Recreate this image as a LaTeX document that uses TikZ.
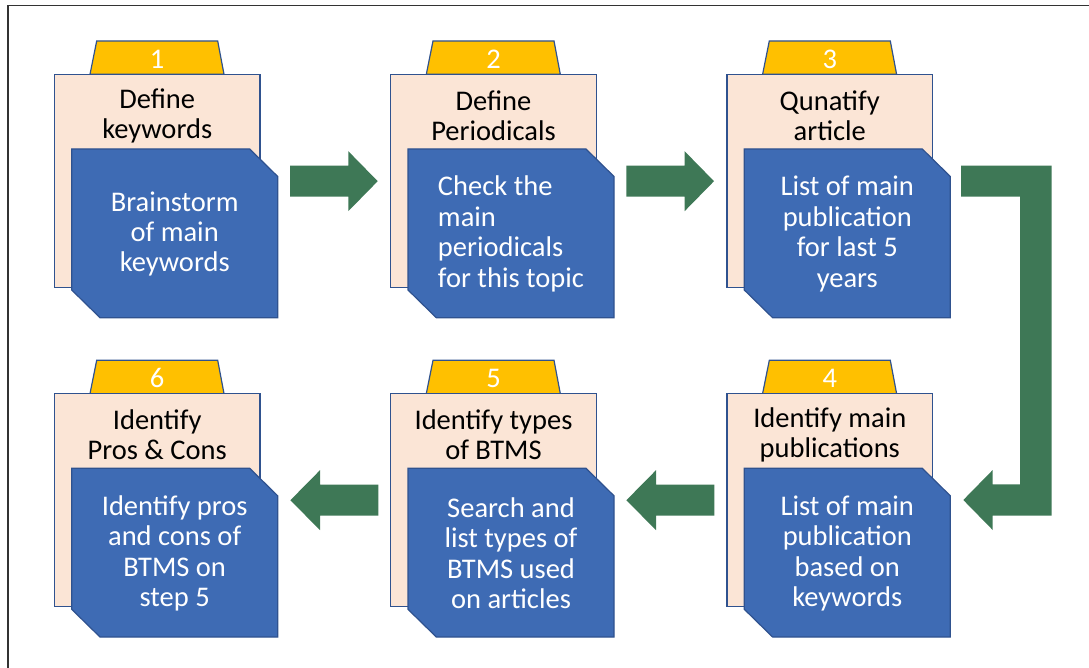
\documentclass[tikz,border=0pt]{standalone}
\usepackage{fontspec}
\setmainfont{Carlito}
\definecolor{tabgold}{HTML}{FFC000}
\definecolor{peach}{HTML}{FBE5D6}
\definecolor{cardblue}{HTML}{3E6BB4}
\definecolor{edgeblue}{HTML}{2F528F}
\definecolor{flowgreen}{HTML}{3E7856}
\tikzset{
  tabshape/.style={fill=tabgold, draw=edgeblue, line width=1.2pt, line join=miter},
  pageshape/.style={fill=peach, draw=edgeblue, line width=1.2pt},
  cardshape/.style={fill=cardblue, draw=edgeblue, line width=1.2pt, line join=miter},
  numtext/.style={text=white, font=\fontsize{28.5}{30}\selectfont, inner sep=0pt},
  titletext/.style={text=black, font=\fontsize{28.5}{30}\selectfont, align=center, inner sep=0pt},
  bodytext/.style={text=white, font=\fontsize{28.5}{30.4}\selectfont, inner sep=0pt},
  flow/.style={fill=flowgreen},
}
% one process step: tab with number, page with title, card with description
% #1 name, #2 x, #3 y, #4 number, #5 title, #6 description, #7 alignment
\newcommand{\procstep}[7]{%
  \begin{scope}[shift={(#2,#3)}]
    \draw[tabshape] (35.7,33.3) -- (42.4,0) -- (163.4,0) -- (169.7,33.3) -- cycle;
    \draw[pageshape] (0,33.3) rectangle (205.7,246.3);
    \draw[cardshape] (17.4,108) -- (195.4,108) -- (223.4,135.5) -- (223.4,276.7)
      -- (45.7,276.7) -- (17.4,249) -- cycle;
    \node[numtext] (#1-num) at (102.9,18) {#4};
    \node[titletext] (#1-title) at (102.9,74.5) {#5};
    \node[bodytext, align=#7] (#1-body) at (120.4,193) {#6};
  \end{scope}}
% straight block arrows, drawn from their tail coordinate
\newcommand{\rightflow}[1]{%
  \fill[flow] (#1) ++(0,-15.5) -- ++(58.3,0) -- ++(0,-14.5) -- ++(29.4,30)
    -- ++(-29.4,30) -- ++(0,-14.5) -- ++(-58.3,0) -- cycle;}
\newcommand{\leftflow}[1]{%
  \fill[flow] (#1) ++(0,-15.5) -- ++(-58.3,0) -- ++(0,-14.5) -- ++(-29.6,30)
    -- ++(29.6,30) -- ++(0,-14.5) -- ++(58.3,0) -- cycle;}
\begin{document}
\begin{tikzpicture}[x=1pt, y=-1pt]
  \useasboundingbox (0,0) rectangle (1089,668);
  \draw[line width=1.3pt, black!80] (8,668) -- (8,5.7) -- (1089,5.7);

  \procstep{s1}{54.3}{41}{1}{Define\\keywords}{Brainstorm\\of main\\keywords}{center}
  \procstep{s2}{390.6}{41}{2}{Define\\Periodicals}{Check the\\main\\periodicals\\for this topic}{left}
  \procstep{s3}{726.9}{41}{3}{Qunatify\\article}{List of main\\publication\\for last 5\\years}{center}
  \procstep{s4}{726.9}{360.3}{4}{Identify main\\publications}{List of main\\publication\\based on\\keywords}{center}
  \procstep{s5}{390.6}{360.3}{5}{Identify types\\of BTMS}{Search and\\list types of\\BTMS used\\on articles}{center}
  \procstep{s6}{54.3}{360.3}{6}{Identify\\Pros \& Cons}{Identify pros\\and cons of\\BTMS on\\step 5}{center}

  \coordinate (f12) at (290,181.2);
  \coordinate (f23) at (626.3,181.2);
  \coordinate (f45) at (714.3,500.2);
  \coordinate (f56) at (378.3,500.2);
  \rightflow{f12}
  \rightflow{f23}
  \leftflow{f45}
  \leftflow{f56}

  % bent arrow from step 3 down to step 4
  \coordinate (f34) at (961,165.7);
  \coordinate (f34tip) at (963.3,500);
  \fill[flow] (f34) -- (1051.7,165.7) -- (1051.7,515.7) -- (992.7,515.7)
    -- (992.7,530) -- (f34tip) -- (992.7,470) -- (992.7,484.3)
    -- (1020,484.3) -- (1020,196.7) -- (961,196.7) -- cycle;
\end{tikzpicture}
\end{document}
